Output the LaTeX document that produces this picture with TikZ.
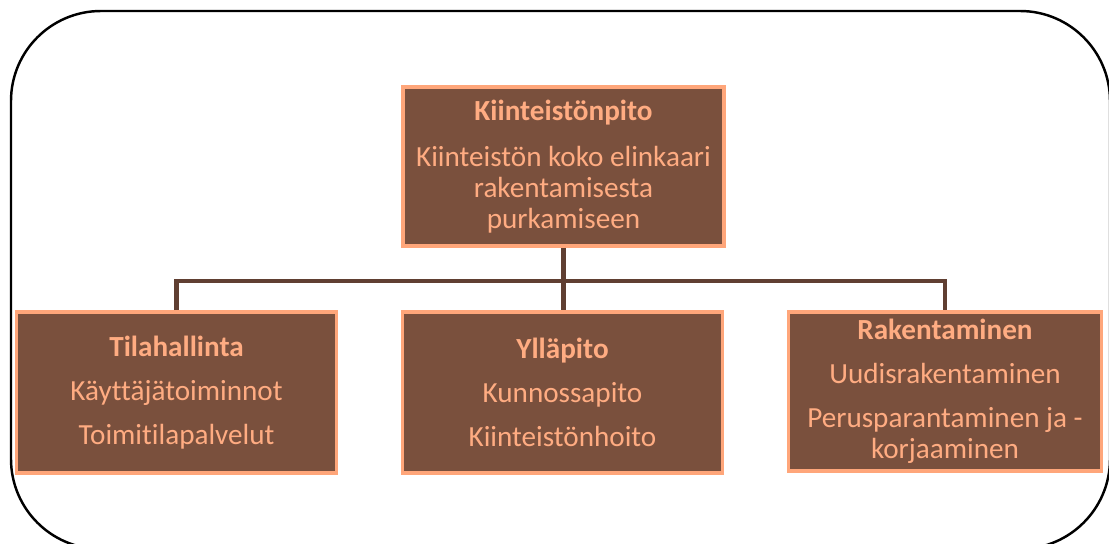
\documentclass[tikz,border=0pt]{standalone}
\usepackage{fontspec}
\setmainfont{Carlito}[Ligatures=NoCommon]
\usepackage{tikz}
\usetikzlibrary{positioning}
\definecolor{boxbrown}{RGB}{122,80,61}
\definecolor{boxrim}{RGB}{255,166,122}
\definecolor{boxtext}{RGB}{255,172,130}
\definecolor{linkbrown}{RGB}{96,63,50}
\tikzset{
  orgnode/.style={rectangle,draw=boxrim,fill=boxbrown,line width=2.2pt,
    text=boxtext,align=center,inner sep=2pt,
    font=\fontsize{16.6}{17.6}\selectfont},
  topnode/.style={orgnode,minimum width=6.42cm,minimum height=3.18cm},
  subnode/.style={orgnode,minimum width=6.40cm,minimum height=3.22cm},
  busline/.style={linkbrown,line width=2.8pt},
  frameline/.style={black,line width=1.4pt,rounded corners=1.8cm},
}
\begin{document}
\begin{tikzpicture}[x=0.02cm,y=-0.02cm]
  \useasboundingbox (0,0) rectangle (1109,544);
  \draw[frameline] (11,11) rectangle (1110,549);
  \node[topnode] (nTop) at (563.5,166.5)
    {\textbf{Kiinteistönpito}\\[9pt]Kiinteistön koko elinkaari\\rakentamisesta\\purkamiseen};
  \node[subnode] (nTila) at (176.5,392.5)
    {\textbf{Tilahallinta}\\[7.5pt]Käyttäjätoiminnot\\[7.5pt]Toimitilapalvelut};
  \node[subnode] (nYlla) at (562.5,392.5)
    {\textbf{Ylläpito}\\[7.5pt]Kunnossapito\\[7.5pt]Kiinteistönhoito};
  \node[subnode,minimum width=6.26cm,minimum height=3.18cm] (nRak) at (945,391.5)
    {\textbf{Rakentaminen}\\[7.5pt]Uudisrakentaminen\\[7.5pt]Perusparantaminen ja -\\korjaaminen};
  \coordinate (bus) at (nTop.south |- 0,281);
  \draw[busline] (nTop.south) -- (bus);
  \draw[busline] (nTila.north) |- (bus) -| (nRak.north);
  \draw[busline] (bus) -- (bus |- nYlla.north);
\end{tikzpicture}
\end{document}
